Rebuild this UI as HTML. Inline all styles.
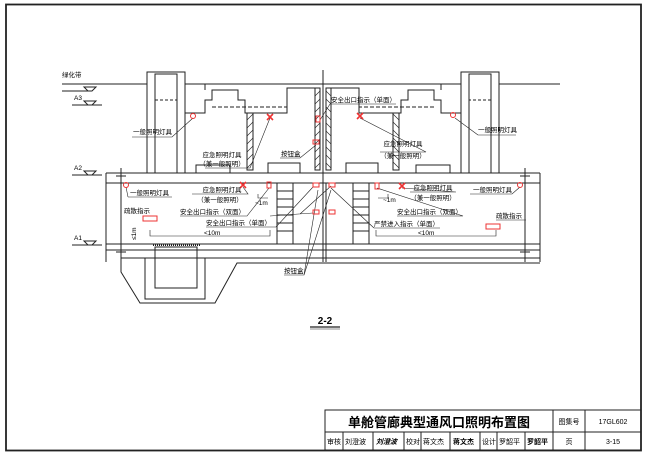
<!DOCTYPE html>
<html><head><meta charset="utf-8"><style>
html,body{margin:0;padding:0;background:#fff;}
svg{display:block;}
text{font-family:"Liberation Sans","Noto Sans CJK SC",sans-serif;fill:#000;}
</style></head><body>
<svg width="645" height="455" viewBox="0 0 645 455" xmlns="http://www.w3.org/2000/svg">
<rect x="6" y="4.5" width="635" height="446" fill="none" stroke="#222" stroke-width="1.8"/>

<g stroke="#222" stroke-width="1" fill="none">
<line x1="62" y1="84" x2="147" y2="84"/>
<line x1="499" y1="84" x2="560" y2="84"/>
<line x1="185" y1="84" x2="461" y2="84"/>
<g id="half">
 <rect x="147" y="72" width="38" height="101"/>
 <rect x="155" y="74" width="22" height="99"/>
 <line x1="155" y1="100" x2="177" y2="100" stroke-dasharray="3 2"/>
 <polyline points="185,113 205,113 205,100 212,100 212,90 238,90 238,100 245,100 245,113 287,113 287,88 318,88"/>
 <line x1="212" y1="107" x2="287" y2="107" stroke-dasharray="4 2"/>
 <line x1="205" y1="84" x2="205" y2="90"/>
 <rect x="247" y="113" width="6" height="57"/>
 <path d="M247,120 l6,-6 M247,128 l6,-6 M247,136 l6,-6 M247,144 l6,-6 M247,152 l6,-6 M247,160 l6,-6 M247,168 l6,-6" stroke-width="0.6"/>
 <rect x="315" y="88" width="5" height="82"/>
 <path d="M315,96 l5,-5 M315,104 l5,-5 M315,112 l5,-5 M315,120 l5,-5 M315,128 l5,-5 M315,136 l5,-5 M315,144 l5,-5 M315,152 l5,-5 M315,160 l5,-5 M315,168 l5,-5" stroke-width="0.6"/>
 <polyline points="196,173 196,165 230,165 230,173"/>
 <polyline points="268,173 268,163 300,163 300,173"/>
 <line x1="106" y1="173" x2="323" y2="173"/>
 <line x1="106" y1="183" x2="323" y2="183"/>
 <line x1="106" y1="173" x2="106" y2="262"/>
 <line x1="121" y1="168" x2="121" y2="262"/>
 <line x1="116" y1="176" x2="126" y2="176"/>
 <line x1="116" y1="252" x2="126" y2="252"/>
 <line x1="106" y1="244" x2="323" y2="244"/>
 <line x1="106" y1="250" x2="323" y2="250"/>
 <line x1="277" y1="183" x2="277" y2="244"/>
 <line x1="293" y1="183" x2="293" y2="244"/>
 <path d="M277,191 h16 M277,199 h16 M277,207 h16 M277,215 h16 M277,223 h16 M277,231 h16"/>
 <polyline points="150,230 150,236 270,236 270,230" stroke-width="0.6"/>
 <polyline points="258,194 258,198 268,198" stroke-width="0.6"/>
</g>
<use href="#half" transform="translate(646,0) scale(-1,1)"/>
<line x1="323" y1="70" x2="323" y2="262"/>
<line x1="326" y1="183" x2="326" y2="262"/>
<line x1="121" y1="258" x2="540" y2="258"/>
<polyline points="121,258 121,272 140,303 215,303 237,263 540,263"/>
<polyline points="145,258 145,299 205,299 205,258"/>
<rect x="155" y="247" width="42" height="41"/>
<line x1="153" y1="245" x2="200" y2="245" stroke-width="2" stroke-dasharray="1 1"/>
<path d="M84,87 h12 l-4,4 h-4 z M62,91 h30"/>
<path d="M84,101 h12 l-4,4 h-4 z M72,105 h30"/>
<path d="M84,171 h12 l-4,4 h-4 z M72,175 h30"/>
<path d="M84,241 h12 l-4,4 h-4 z M72,245 h30"/>
<g stroke-width="0.6">
<path d="M132,137 h40 L193,118"/>
<path d="M205,168 h45 L270,118"/>
<path d="M280,158 h20 L316,145"/>
<path d="M128,197 h44 M128,197 L126,187"/>
<path d="M192,194 h56 L243,187"/>
<path d="M180,216 h67 L269,188"/>
<path d="M206,227 h70 L313,187"/>
<path d="M284,275 h20 L318,190 M304,275 L331,190"/>
<path d="M330,104 h66 M330,104 L320,120"/>
<path d="M380,152 h46 L360,118"/>
<path d="M478,135 h38 M478,135 L455,118"/>
<path d="M410,192 h46 L402,188"/>
<path d="M470,194 h42 L520,187"/>
<path d="M397,216 h66 L377,188"/>
<path d="M374,228 h66 M374,228 L331,188"/>
<path d="M496,220 h30"/>
<path d="M270,216 L313,213 M300,214 L331,186"/>
</g>
<line x1="310" y1="327" x2="340" y2="327" stroke-width="1.2"/>
<line x1="310" y1="329" x2="340" y2="329" stroke-width="0.5"/>
</g>

<g stroke="#e33" fill="none" stroke-width="1">
<circle cx="193" cy="116" r="2.5"/><circle cx="126" cy="185" r="2.5"/>
<circle cx="453" cy="115" r="2.5"/><circle cx="520" cy="185" r="2.5"/>
<path d="M267,114 l6,6 M273,114 l-6,6 M240,182 l6,6 M246,182 l-6,6 M357,113 l6,6 M363,113 l-6,6 M399,183 l6,6 M405,183 l-6,6" stroke-width="1.6"/>
<rect x="267" y="182" width="4" height="6"/><rect x="375" y="183" width="4" height="6"/>
<rect x="316" y="116" width="4" height="6"/><rect x="313" y="140" width="6" height="4"/>
<rect x="313" y="183" width="6" height="4"/><rect x="329" y="183" width="6" height="4"/>
<rect x="313" y="210" width="6" height="4"/><rect x="329" y="210" width="6" height="4"/>
<rect x="143" y="216" width="14" height="5"/><rect x="486" y="224" width="14" height="5"/>
</g>

<g font-size="6.5">
<text x="62" y="77">绿化带</text>
<text x="74" y="100">A3</text><text x="74" y="170">A2</text><text x="74" y="240">A1</text>
<text x="133" y="134">一般照明灯具</text>
<text x="222" y="157" text-anchor="middle">应急照明灯具</text>
<text x="222" y="166" text-anchor="middle">（兼一般照明）</text>
<text x="281" y="156">按钮盒</text>
<text x="130" y="195">一般照明灯具</text>
<text x="222" y="192" text-anchor="middle">应急照明灯具</text>
<text x="220" y="202" text-anchor="middle">（兼一般照明）</text>
<text x="255" y="205">~1m</text>
<text x="180" y="214">安全出口指示（双面）</text>
<text x="206" y="225">安全出口指示（单面）</text>
<text x="124" y="213">疏散指示</text>
<text x="204" y="235">&lt;10m</text>
<text x="136" y="240" transform="rotate(-90 136 240)">≤1m</text>
<text x="284" y="273">按钮盒</text>
<text x="331" y="102">安全出口指示（单面）</text>
<text x="403" y="146" text-anchor="middle">应急照明灯具</text>
<text x="403" y="158" text-anchor="middle">（兼一般照明）</text>
<text x="478" y="132">一般照明灯具</text>
<text x="433" y="190" text-anchor="middle">应急照明灯具</text>
<text x="433" y="200" text-anchor="middle">（兼一般照明）</text>
<text x="473" y="192">一般照明灯具</text>
<text x="383" y="202">~1m</text>
<text x="397" y="214">安全出口指示（双面）</text>
<text x="374" y="226">严禁进入指示（单面）</text>
<text x="496" y="218">疏散指示</text>
<text x="418" y="235">&lt;10m</text>
<text x="325" y="324" text-anchor="middle" font-size="10" font-weight="bold">2-2</text>
</g>

<g stroke="#222" fill="none" stroke-width="1">
<rect x="325" y="410" width="316" height="40"/>
<line x1="325" y1="432" x2="641" y2="432"/>
<line x1="553" y1="410" x2="553" y2="450"/>
<line x1="585" y1="410" x2="585" y2="450"/>
<line x1="343" y1="432" x2="343" y2="450"/>
<line x1="373" y1="432" x2="373" y2="450"/>
<line x1="404" y1="432" x2="404" y2="450"/>
<line x1="421" y1="432" x2="421" y2="450"/>
<line x1="450" y1="432" x2="450" y2="450"/>
<line x1="480" y1="432" x2="480" y2="450"/>
<line x1="497" y1="432" x2="497" y2="450"/>
<line x1="525" y1="432" x2="525" y2="450"/>
</g>
<g font-size="7">
<text x="439" y="427" text-anchor="middle" font-size="13" font-weight="bold">单舱管廊典型通风口照明布置图</text>
<text x="569" y="424" text-anchor="middle">图集号</text>
<text x="613" y="424" text-anchor="middle">17GL602</text>
<text x="569" y="444" text-anchor="middle">页</text>
<text x="613" y="444" text-anchor="middle">3-15</text>
<text x="327" y="444">审核</text>
<text x="345" y="444">刘澄波</text>
<text x="376" y="444" font-style="italic" font-weight="bold">刘澄波</text>
<text x="406" y="444">校对</text>
<text x="423" y="444">蒋文杰</text>
<text x="453" y="444" font-weight="bold">蒋文杰</text>
<text x="482" y="444">设计</text>
<text x="499" y="444">罗韶平</text>
<text x="527" y="444" font-weight="bold">罗韶平</text>
</g>
</svg>
</body></html>
